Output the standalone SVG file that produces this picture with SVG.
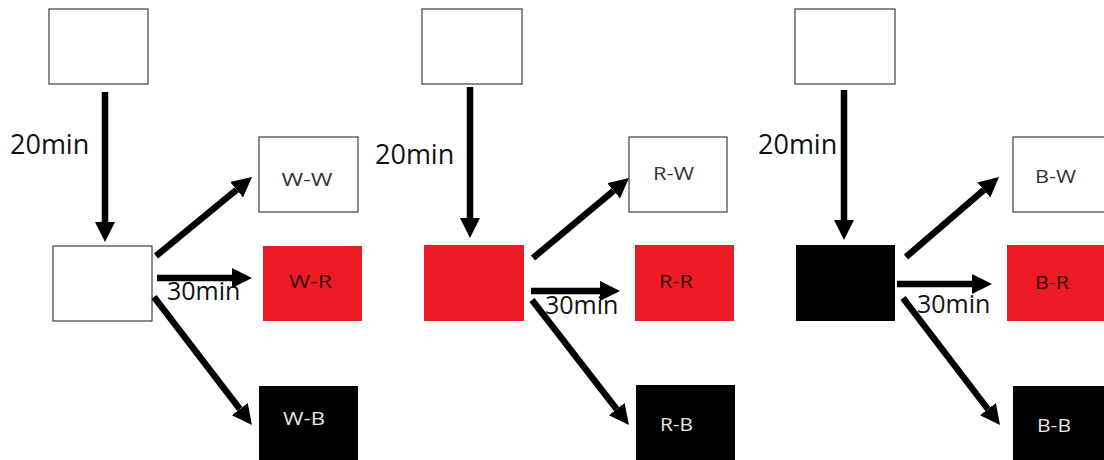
<svg xmlns="http://www.w3.org/2000/svg" width="1104" height="460" viewBox="0 0 1104 460">
<style>
.w{fill:#fff;stroke:#404040;stroke-width:1.2}
.r{fill:#ED1C24}
.k{fill:#000}
.lbl{font-family:"Open Sans","Liberation Sans",sans-serif;font-size:19px;text-anchor:middle}
.lw{fill:#333}
.lr{fill:#3a0608}
.lk{fill:#e6e6e6}
.t{font-family:"Open Sans","Liberation Sans",sans-serif;fill:#111}
.a{stroke:#000;stroke-width:6.5;fill:none;marker-end:url(#ah)}
</style>
<defs>
<marker id="ah" markerUnits="userSpaceOnUse" markerWidth="21" markerHeight="21" refX="0" refY="10" orient="auto" viewBox="0 0 21 21">
<path d="M0,0 L20,10 L0,20 z" fill="#000"/>
</marker>
</defs>
<rect width="1104" height="460" fill="#fff"/>
<g id="g1-top"><rect class="w" x="49" y="9" width="99" height="75"/></g>
<g id="g1-mid"><rect class="w" x="53" y="246" width="99" height="75"/></g>
<g id="ww"><rect class="w" x="259" y="137" width="99" height="75"/><text class="lbl lw" x="307" y="186" textLength="51" lengthAdjust="spacingAndGlyphs">W-W</text></g>
<g id="wr"><rect class="r" x="263" y="246" width="99" height="75"/><text class="lbl lr" x="310.5" y="288" textLength="43" lengthAdjust="spacingAndGlyphs">W-R</text></g>
<g id="wb"><rect class="k" x="259" y="386" width="99" height="80"/><text class="lbl lk" x="304" y="425" textLength="42" lengthAdjust="spacingAndGlyphs">W-B</text></g>
<g id="g2-top"><rect class="w" x="422" y="9" width="100" height="75"/></g>
<g id="g2-mid"><rect class="r" x="424" y="245" width="100" height="76"/></g>
<g id="rw"><rect class="w" x="629" y="137" width="98" height="75"/><text class="lbl lw" x="673.5" y="180" textLength="41" lengthAdjust="spacingAndGlyphs">R-W</text></g>
<g id="rr"><rect class="r" x="635" y="245" width="99" height="76"/><text class="lbl lr" x="676" y="288" textLength="34" lengthAdjust="spacingAndGlyphs">R-R</text></g>
<g id="rb"><rect class="k" x="636" y="385" width="99" height="80"/><text class="lbl lk" x="676.5" y="430.5" textLength="33" lengthAdjust="spacingAndGlyphs">R-B</text></g>
<g id="g3-top"><rect class="w" x="795" y="9" width="100" height="75"/></g>
<g id="g3-mid"><rect class="k" x="796" y="245" width="99" height="76"/></g>
<g id="bw"><rect class="w" x="1013" y="137" width="100" height="75"/><text class="lbl lw" x="1055.5" y="183" textLength="41" lengthAdjust="spacingAndGlyphs">B-W</text></g>
<g id="br"><rect class="r" x="1007" y="245" width="110" height="76"/><text class="lbl lr" x="1052" y="289" textLength="34" lengthAdjust="spacingAndGlyphs">B-R</text></g>
<g id="bb"><rect class="k" x="1013" y="386" width="100" height="80"/><text class="lbl lk" x="1054" y="432" textLength="34" lengthAdjust="spacingAndGlyphs">B-B</text></g>
<g id="connectors">
<line class="a" x1="105" y1="92" x2="105" y2="222"/>
<line class="a" x1="156" y1="256" x2="236.6" y2="189.7"/>
<line class="a" x1="157" y1="278" x2="232" y2="278"/>
<line class="a" x1="154" y1="297" x2="239.8" y2="409.1"/>
<line class="a" x1="470" y1="87" x2="470" y2="218"/>
<line class="a" x1="533" y1="258" x2="613.6" y2="190.8"/>
<line class="a" x1="531" y1="291" x2="600" y2="291"/>
<line class="a" x1="532" y1="300" x2="616.7" y2="409.2"/>
<line class="a" x1="844" y1="90" x2="844" y2="220"/>
<line class="a" x1="906" y1="257" x2="983.8" y2="190"/>
<line class="a" x1="897" y1="284" x2="972" y2="284"/>
<line class="a" x1="903" y1="298" x2="987.9" y2="409.1"/>
</g>
<g id="labels">
<text class="t" x="10" y="154" font-size="27">20min</text>
<text class="t" x="375" y="164" font-size="27">20min</text>
<text class="t" x="758" y="154" font-size="27">20min</text>
<text class="t" x="167" y="300" font-size="25">30min</text>
<text class="t" x="545" y="314" font-size="25">30min</text>
<text class="t" x="917" y="313" font-size="25">30min</text>
</g>
</svg>
